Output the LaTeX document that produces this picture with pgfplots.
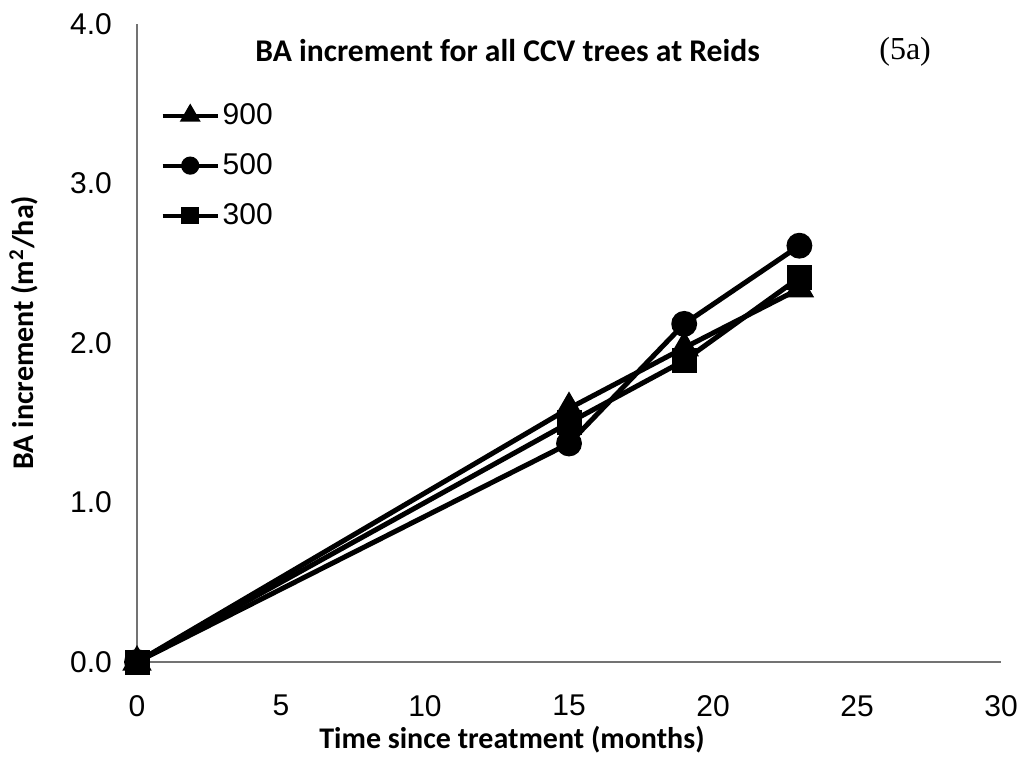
\documentclass[border=0pt]{standalone}
\usepackage{fontspec}
\setmainfont{Liberation Sans}
\newfontfamily\calibri{Carlito}
\newfontfamily\tnr{Liberation Serif}
\usepackage{pgfplots}
\pgfplotsset{compat=1.18}
\begin{document}
\begin{tikzpicture}
\useasboundingbox (0,0) rectangle (510.5pt,388.5pt);
\begin{axis}[
  at={(68.5pt,57.5pt)}, anchor=south west,
  scale only axis, width=432pt, height=319pt,
  xmin=0, xmax=30, ymin=0, ymax=4,
  xtick={0,5,...,30}, ytick={0,1,2,3,4},
  axis x line=bottom, axis y line=left,
  axis line style={draw=gray!90!black, line width=1pt, -},
  major tick length=0pt,
  tick label style={font=\fontsize{15}{17}\selectfont},
  /pgf/number format/assume math mode=true,
  yticklabel style={xshift=-9pt, /pgf/number format/fixed, /pgf/number format/fixed zerofill, /pgf/number format/precision=1},
  xticklabel style={yshift=-13pt},
  clip=false,
  legend style={draw=none, fill=none, at={(0.027,0.882)}, anchor=north west,
    font=\fontsize{15}{17}\selectfont, row sep=9pt, inner sep=0pt,
    nodes={inner xsep=1.5pt}},
  legend cell align=left,
  legend image code/.code={\draw[line width=2pt,mark repeat=2,mark phase=2,mark options={scale=0.68}] plot coordinates {(0pt,0pt) (13.75pt,0pt) (27.5pt,0pt)};},
]
\addplot[black, line width=2.5pt, mark=triangle*, mark size=6pt, mark options={solid}] coordinates {(0,0) (15,1.59) (19,1.97) (23,2.34)};
\addlegendentry{900}
\addplot[black, line width=2.5pt, mark=*, mark size=5.2pt] coordinates {(0,0) (15,1.37) (19,2.12) (23,2.61)};
\addlegendentry{500}
\addplot[black, line width=2.5pt, mark=square*, mark size=5pt] coordinates {(0,0) (15,1.50) (19,1.89) (23,2.41)};
\addlegendentry{300}
\node[font=\calibri\bfseries\fontsize{15.8}{18}\selectfont] at (axis description cs:0.429,0.959) {BA increment for all CCV trees at Reids};
\node[font=\tnr\fontsize{16}{18}\selectfont] at (axis description cs:0.889,0.956) {(5a)};
\node[font=\calibri\bfseries\fontsize{15}{17}\selectfont] at (axis description cs:0.434,-0.122) {Time since treatment (months)};
\node[font=\calibri\bfseries\fontsize{15}{17}\selectfont, rotate=90] at (axis description cs:-0.131,0.516) {BA increment (m\textsuperscript{2}/ha)};
\end{axis}
\end{tikzpicture}
\end{document}
